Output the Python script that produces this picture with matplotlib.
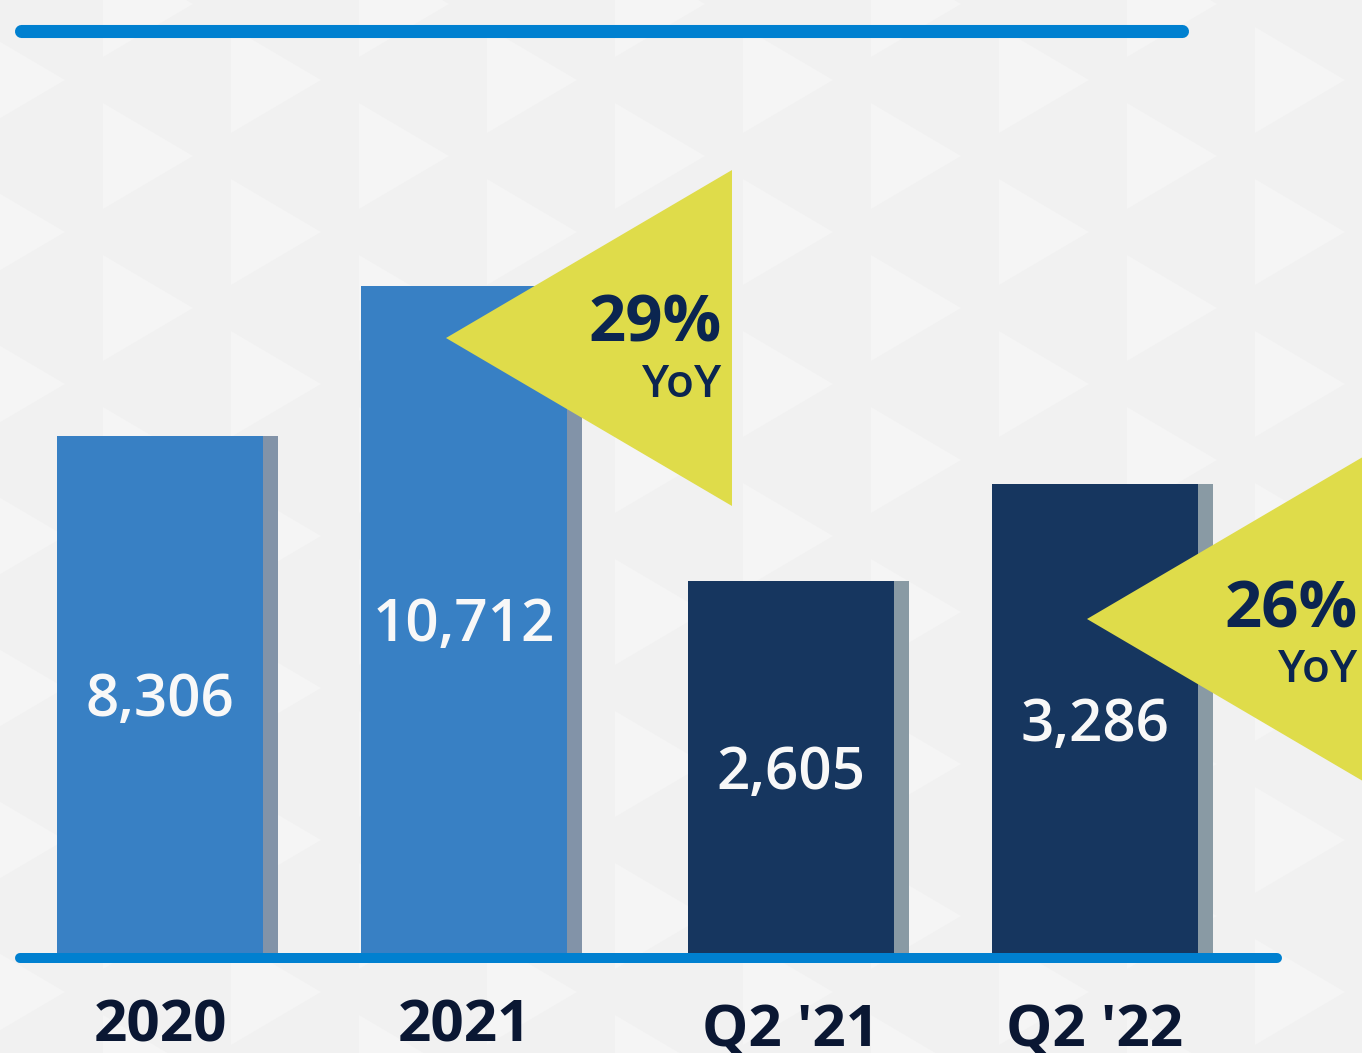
import matplotlib.pyplot as plt
from matplotlib.patches import Polygon, Rectangle
from matplotlib import transforms

# datos
annual_labels = ['2020', '2021']
annual_values = [8306, 10712]
quarter_labels = ["Q2 '21", "Q2 '22"]
quarter_values = [2605, 3286]
yoy_labels = ['29%', '26%']

W, H = 1362, 1053
BASE = 953          # linea base en pixeles (desde arriba)
UNIT = 304.0        # pixeles por unidad en x
px = 1 / UNIT

fig = plt.figure(figsize=(W / 100, H / 100), dpi=100)

# fondo con triangulos
bg = fig.add_axes([0, 0, 1, 1])
bg.set_xlim(0, W)
bg.set_ylim(H, 0)
bg.axis('off')
bg.add_patch(Rectangle((0, 0), W, H, color='#F1F1F1', zorder=0))
col_w, period = 128, 152
for k in range(-1, 12):
    x0 = -25 + col_w * k
    off = 76 if k % 2 else 0
    for n in range(-1, 9):
        yc = 80 + off + period * n
        tri = [(x0, yc - 53), (x0, yc + 53), (x0 + 90, yc)]
        bg.add_patch(Polygon(tri, closed=True, color='#F5F5F5', lw=0, zorder=1))

# ejes de barras: anual y trimestral con escalas distintas
rect = [0, (H - BASE) / H, 1, 900 / H]
ax_a = fig.add_axes(rect)
ax_q = fig.add_axes(rect)
xlim = (-160 / UNIT, (W - 160) / UNIT)
ax_a.set_ylim(0, 14450)
ax_q.set_ylim(0, 6310)

xa = [0, 1]
xq = [2.075, 3.075]
bw = 206 * px

for ax, xs, vals, col, sh in [(ax_a, xa, annual_values, '#3880C4', '#8293A8'),
                              (ax_q, xq, quarter_values, '#16365F', '#899AA4')]:
    ax.set_xlim(*xlim)
    ax.axis('off')
    ax.patch.set_alpha(0)
    ax.bar([x + 15 * px for x in xs], vals, width=bw, color=sh, zorder=1)
    ax.bar(xs, vals, width=bw, color=col, zorder=2)
    for x, v in zip(xs, vals):
        ax.text(x, v / 2, f'{v:,}', ha='center', va='center_baseline',
                color='#F8F8F8', fontsize=42, fontweight='semibold',
                family='Open Sans', zorder=3)

# capa superior: lineas, triangulos y etiquetas
top = fig.add_axes([0, 0, 1, 1])
top.set_xlim(0, W)
top.set_ylim(H, 0)
top.axis('off')
top.patch.set_alpha(0)

top.plot([21, 1182], [31, 31], color='#0080D0', lw=9.4, solid_capstyle='round')
top.plot([20, 1277], [958, 958], color='#0080D0', lw=7.2, solid_capstyle='round')

yellow = '#DFDC4A'
navy = '#0B2550'
for tx, ty in [(446, 338), (1087, 619)]:
    top.add_patch(Polygon([(tx, ty), (tx + 286, ty - 168), (tx + 286, ty + 168)],
                          closed=True, color=yellow, lw=0, zorder=5))
for lab, (x_r, b1, b2) in zip(yoy_labels, [(722, 341, 397), (1358, 627, 682)]):
    top.text(x_r, b1, lab, ha='right', va='baseline', color=navy,
             fontsize=47, fontweight='bold', family='Open Sans', zorder=6)
    top.text(x_r, b2, 'YoY', ha='right', va='baseline', color=navy,
             fontsize=33, fontweight='semibold', family='Open Sans', zorder=6)

# etiquetas del eje x
trans = transforms.blended_transform_factory(ax_a.transData, top.transData)
for x, lab in zip(xa, annual_labels):
    top.text(x, 1042, lab, transform=trans, ha='center', va='baseline',
             color='#0A1733', fontsize=42, fontweight='bold', family='Open Sans')
for x, lab in zip(xq, quarter_labels):
    top.text(x, 1047, lab, transform=trans, ha='center', va='baseline',
             color='#0A1733', fontsize=42, fontweight='bold', family='Open Sans')

fig.savefig('out.png', dpi=100)
